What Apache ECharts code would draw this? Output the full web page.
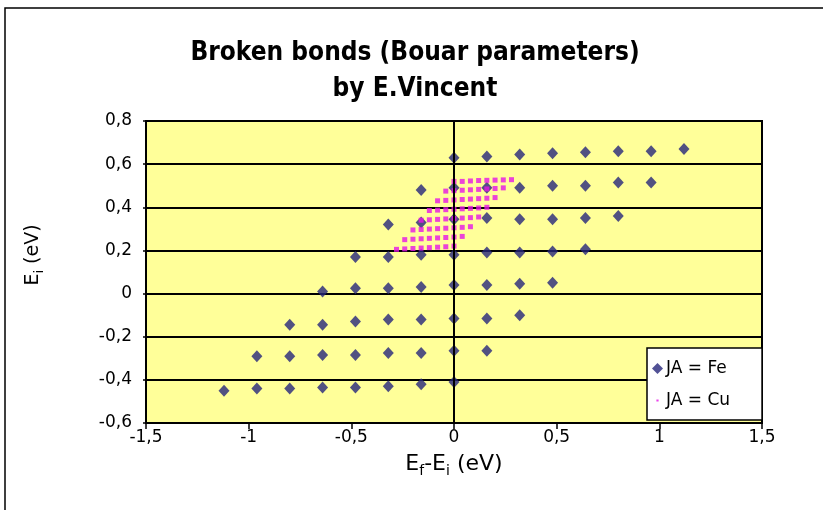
<!DOCTYPE html>
<html><head><meta charset="utf-8">
<script src="https://cdn.jsdelivr.net/npm/echarts@6/dist/echarts.min.js"></script>
<style>html,body{margin:0;padding:0;background:#fff}#c{width:823px;height:510px}</style>
</head><body><div id="c"></div>
<script>
const titleLines = ['Broken bonds (Bouar parameters)', 'by E.Vincent'];
const seriesNames = ['JA = Fe', 'JA = Cu'];
const xTickValues = [-1.5, -1, -0.5, 0, 0.5, 1, 1.5];
const yTickValues = [-0.6, -0.4, -0.2, 0, 0.2, 0.4, 0.6, 0.8];

// Fe points (E_f - E_i, E_i)
const feX = [
  0, 0.16, 0.32, 0.48, 0.64, 0.80, 0.96, 1.12,
  -0.16, 0, 0.16, 0.32, 0.48, 0.64, 0.80, 0.96,
  -0.32, -0.16, 0, 0.16, 0.32, 0.48, 0.64, 0.80,
  -0.48, -0.32, -0.16, 0, 0.16, 0.32, 0.48, 0.64,
  -0.64, -0.48, -0.32, -0.16, 0, 0.16, 0.32, 0.48,
  -0.80, -0.64, -0.48, -0.32, -0.16, 0, 0.16, 0.32,
  -0.96, -0.80, -0.64, -0.48, -0.32, -0.16, 0, 0.16,
  -1.12, -0.96, -0.80, -0.64, -0.48, -0.32, -0.16, 0
];
const feY = [
  0.63, 0.635, 0.645, 0.65, 0.655, 0.66, 0.66, 0.67,
  0.48, 0.49, 0.49, 0.49, 0.50, 0.50, 0.515, 0.515,
  0.32, 0.33, 0.345, 0.35, 0.345, 0.345, 0.35, 0.36,
  0.17, 0.17, 0.18, 0.18, 0.19, 0.19, 0.195, 0.205,
  0.01, 0.025, 0.025, 0.03, 0.04, 0.04, 0.045, 0.05,
  -0.145, -0.145, -0.13, -0.12, -0.12, -0.115, -0.115, -0.10,
  -0.29, -0.29, -0.285, -0.285, -0.275, -0.275, -0.265, -0.265,
  -0.45, -0.44, -0.44, -0.435, -0.435, -0.43, -0.42, -0.41
];

// Cu points
const cuX = [
  0, 0.04, 0.08, 0.12, 0.16, 0.20, 0.24, 0.28,
  -0.04, 0, 0.04, 0.08, 0.12, 0.16, 0.20, 0.24,
  -0.08, -0.04, 0, 0.04, 0.08, 0.12, 0.16, 0.20,
  -0.12, -0.08, -0.04, 0, 0.04, 0.08, 0.12, 0.16,
  -0.16, -0.12, -0.08, -0.04, 0, 0.04, 0.08, 0.12,
  -0.20, -0.16, -0.12, -0.08, -0.04, 0, 0.04, 0.08,
  -0.24, -0.20, -0.16, -0.12, -0.08, -0.04, 0, 0.04,
  -0.28, -0.24, -0.20, -0.16, -0.12, -0.08, -0.04, 0
];
const cuY = [
  0.52, 0.52, 0.522, 0.524, 0.525, 0.526, 0.527, 0.528,
  0.475, 0.477, 0.479, 0.481, 0.483, 0.485, 0.487, 0.49,
  0.43, 0.432, 0.434, 0.436, 0.438, 0.44, 0.442, 0.445,
  0.385, 0.387, 0.389, 0.391, 0.393, 0.395, 0.397, 0.40,
  0.34, 0.342, 0.344, 0.346, 0.348, 0.35, 0.352, 0.355,
  0.295, 0.297, 0.299, 0.301, 0.303, 0.305, 0.307, 0.31,
  0.25, 0.252, 0.254, 0.256, 0.258, 0.26, 0.262, 0.265,
  0.205, 0.207, 0.209, 0.211, 0.213, 0.215, 0.217, 0.22
];

const fmt = v => String(Math.round(v * 10) / 10).replace('.', ',');
const FONT = 'DejaVu Sans, Verdana, sans-serif';

const chart = echarts.init(document.getElementById('c'), null, {renderer: 'canvas'});
chart.setOption({
  animation: false,
  backgroundColor: '#ffffff',
  title: {
    text: titleLines.join('\n'),
    left: 410, top: 30, textAlign: 'center',
    textStyle: {fontFamily: 'Liberation Sans Narrow, Arial Narrow, DejaVu Sans Condensed, sans-serif',
      fontWeight: 'bold', fontSize: 26, lineHeight: 36, color: '#000'}
  },
  graphic: [{
    type: 'rect', silent: true, z: 100,
    shape: {x: 5, y: 8, width: 840, height: 540},
    style: {fill: 'none', stroke: '#000', lineWidth: 1.5}
  }],
  legend: {
    left: 647, top: 348, orient: 'vertical',
    padding: [12, 32, 11, 5], itemGap: 15, itemWidth: 11, itemHeight: 11,
    backgroundColor: '#fff', borderColor: '#000', borderWidth: 1.5,
    textStyle: {fontFamily: FONT, fontSize: 17, color: '#000', padding: [0, 0, 0, -2]},
    data: [
      {name: seriesNames[0], icon: 'diamond'},
      {name: seriesNames[1], icon: 'path://M4,4h2v2h-2z M0,0h0.01v0.01z M10,10h0.01v0.01z'}
    ]
  },
  grid: {left: 146, right: 61, top: 121, bottom: 87, show: true,
    backgroundColor: '#FFFF99', borderColor: '#000', borderWidth: 2},
  xAxis: {
    type: 'value', min: -1.5, max: 1.5, interval: 0.5,
    name: '{a|E}{s|f}{a|-E}{s|i}{a| (eV)}', nameLocation: 'middle', nameGap: 27,
    nameTextStyle: {rich: {
      a: {fontFamily: FONT, fontSize: 22, color: '#000', lineHeight: 28, verticalAlign: 'middle'},
      s: {fontFamily: FONT, fontSize: 14, color: '#000', lineHeight: 12, verticalAlign: 'bottom'}
    }},
    axisLine: {show: true, onZero: false, lineStyle: {color: '#000', width: 2}},
    axisTick: {show: true, inside: false, length: 6, lineStyle: {color: '#000', width: 1.5}},
    axisLabel: {fontFamily: FONT, fontSize: 17, color: '#000', margin: 6, formatter: fmt},
    splitLine: {show: false}
  },
  yAxis: {
    type: 'value', min: -0.6, max: 0.8, interval: 0.2,
    name: '{a|E}{s|i}{a| (eV)}', nameLocation: 'middle', nameGap: 100,
    nameTextStyle: {padding: [0, 0, 0, 34], rich: {
      a: {fontFamily: FONT, fontSize: 19, color: '#000', lineHeight: 26, verticalAlign: 'middle'},
      s: {fontFamily: FONT, fontSize: 13, color: '#000', lineHeight: 12, verticalAlign: 'bottom'}
    }},
    axisLine: {show: true, onZero: false, lineStyle: {color: '#000', width: 2}},
    axisTick: {show: true, inside: false, length: 3, lineStyle: {color: '#000', width: 1.5}},
    axisLabel: {fontFamily: FONT, fontSize: 17, color: '#000', margin: 14, formatter: fmt},
    splitLine: {show: true, lineStyle: {color: '#000', width: 2}}
  },
  series: [
    {
      name: seriesNames[0], type: 'scatter', symbol: 'diamond', symbolSize: [11, 12],
      itemStyle: {color: '#26267a'},
      data: feX.map((x, i) => [x, feY[i]]),
      markLine: {silent: true, symbol: 'none', label: {show: false},
        lineStyle: {color: '#000', width: 2, type: 'solid'},
        data: [{xAxis: 0}]}
    },
    {
      name: seriesNames[1], type: 'scatter', symbol: 'rect', symbolSize: [5, 5],
      itemStyle: {color: '#e614e6'},
      data: cuX.map((x, i) => [x, cuY[i]])
    }
  ]
});
</script>
</body></html>
